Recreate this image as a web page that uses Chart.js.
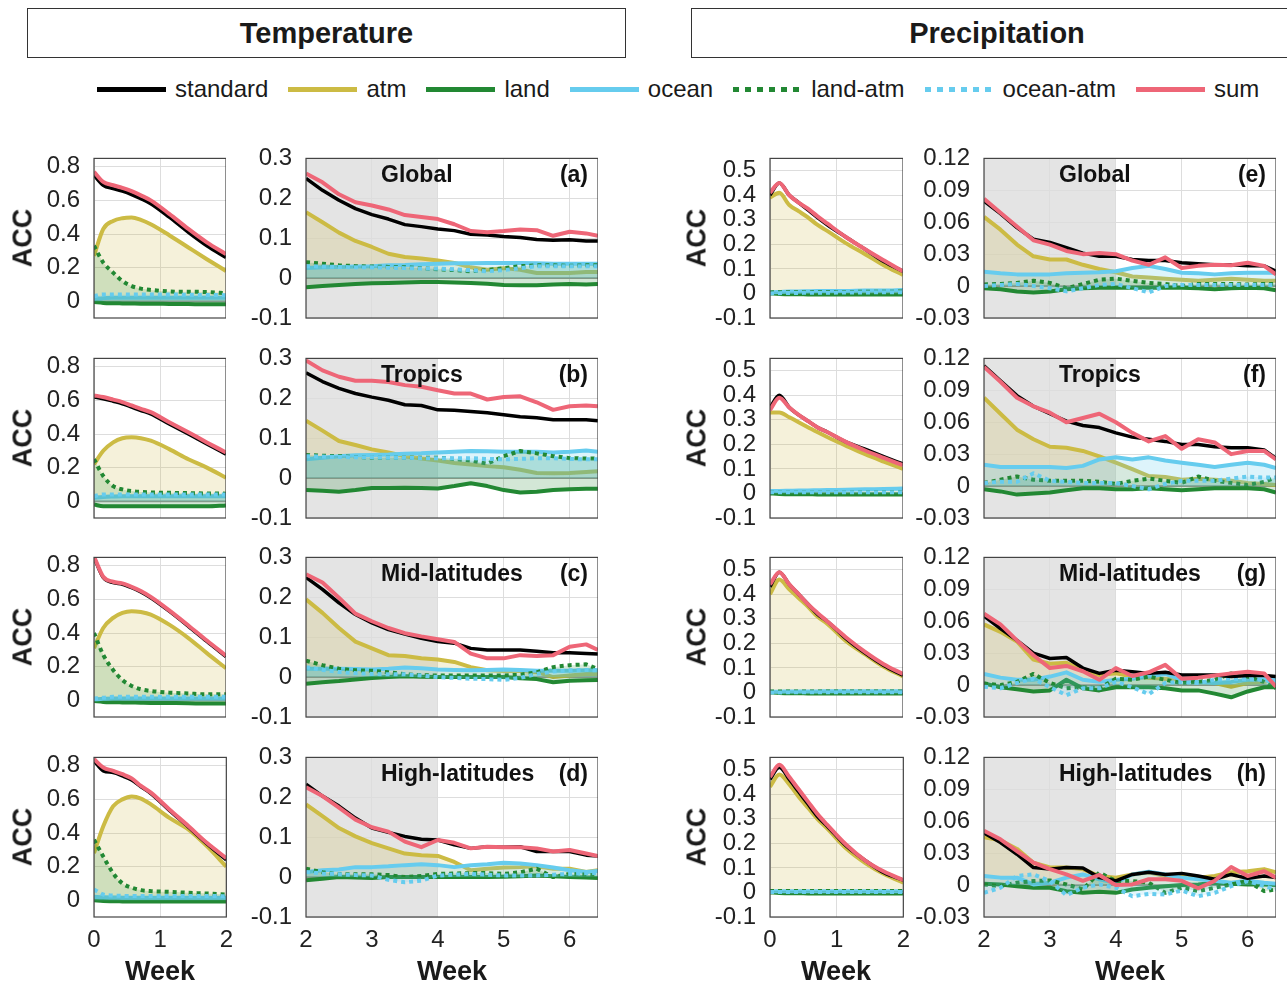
<!DOCTYPE html>
<html>
<head>
<meta charset="utf-8">
<script src="https://cdn.jsdelivr.net/npm/chart.js@4.4.1/dist/chart.umd.min.js"></script>
<style>
  body { margin: 0; width: 1287px; height: 985px; background: #fff; position: relative; overflow: hidden;
         font-family: "Liberation Sans", Arial, Helvetica, sans-serif; color: #1a1a1a; }
  .box { position: absolute; top: 8px; height: 48px; border: 1.5px solid #333; font-weight: bold; font-size: 29px;
         display: flex; align-items: center; justify-content: center; }
  #legend { position: absolute; left: 97px; top: 75px; height: 28px; display: flex; align-items: center; font-size: 24px; }
  .item { display: flex; align-items: center; margin-right: 20px; }
  .swatch { width: 69px; height: 5px; margin-right: 9px; }
  canvas { position: absolute; }
  .acc { position: absolute; font-weight: bold; font-size: 27px; transform: translate(-50%, -50%) rotate(-90deg); }
  .week { position: absolute; font-weight: bold; font-size: 27px; transform: translate(-50%, -50%); }
</style>
</head>
<body>
<div class="box" style="left:27px;width:597px">Temperature</div>
<div class="box" style="left:691px;width:610px">Precipitation</div>
<div id="legend"></div>

<script>
// x positions (weeks): short lead 0-2 weeks, long lead 2-6.4 weeks
const shortWeeks = [0, 0.14, 0.29, 0.43, 0.57, 0.71, 0.86, 1.14, 1.43, 1.71, 2];
const longWeeks = [2, 2.25, 2.5, 2.75, 3, 3.25, 3.5, 3.75, 4, 4.25, 4.5, 4.75, 5, 5.25, 5.5, 5.75, 6, 6.25, 6.43];

const seriesNames = ['standard', 'atm', 'land', 'ocean', 'land-atm', 'ocean-atm', 'sum'];
const regions = ['Global', 'Tropics', 'Mid-latitudes', 'High-latitudes'];
const tempLetters = ['(a)', '(b)', '(c)', '(d)'];
const precLetters = ['(e)', '(f)', '(g)', '(h)'];

// tick values
const tempShortTicks = [0, 0.2, 0.4, 0.6, 0.8];
const tempLongTicks = [-0.1, 0, 0.1, 0.2, 0.3];
const precShortTicks = [-0.1, 0, 0.1, 0.2, 0.3, 0.4, 0.5];
const precLongTicks = [-0.03, 0, 0.03, 0.06, 0.09, 0.12];
const shortWeekTicks = [0, 1, 2];
const longWeekTicks = [2, 3, 4, 5, 6];

// ACC values, rows in seriesNames order: standard, atm, land, ocean, land-atm, ocean-atm, sum
const tempGlobalShort = [
  [0.75, 0.69, 0.67, 0.655, 0.635, 0.61, 0.58, 0.50, 0.41, 0.33, 0.26],
  [0.27, 0.43, 0.478, 0.494, 0.498, 0.484, 0.458, 0.393, 0.32, 0.25, 0.18],
  [-0.005, -0.01, -0.012, -0.013, -0.014, -0.015, -0.015, -0.016, -0.017, -0.018, -0.018],
  [0.015, 0.018, 0.02, 0.02, 0.021, 0.021, 0.021, 0.02, 0.02, 0.02, 0.02],
  [0.33, 0.23, 0.17, 0.12, 0.09, 0.075, 0.067, 0.058, 0.056, 0.055, 0.047],
  [0.03, 0.04, 0.04, 0.04, 0.04, 0.04, 0.04, 0.04, 0.038, 0.037, 0.036],
  [0.77, 0.71, 0.69, 0.675, 0.655, 0.63, 0.60, 0.52, 0.43, 0.35, 0.28]
];
const tempGlobalLong = [
  [0.25, 0.22, 0.195, 0.174, 0.159, 0.148, 0.134, 0.129, 0.123, 0.119, 0.11, 0.108, 0.104, 0.102, 0.097, 0.095, 0.096, 0.093, 0.093],
  [0.165, 0.14, 0.114, 0.093, 0.078, 0.061, 0.053, 0.049, 0.044, 0.038, 0.027, 0.021, 0.025, 0.021, 0.013, 0.013, 0.013, 0.015, 0.015],
  [-0.023, -0.02, -0.017, -0.015, -0.013, -0.012, -0.011, -0.01, -0.01, -0.011, -0.012, -0.014, -0.017, -0.018, -0.018, -0.016, -0.015, -0.016, -0.015],
  [0.025, 0.027, 0.028, 0.029, 0.03, 0.032, 0.033, 0.035, 0.036, 0.037, 0.037, 0.038, 0.038, 0.038, 0.037, 0.036, 0.036, 0.036, 0.036],
  [0.04, 0.036, 0.032, 0.03, 0.029, 0.028, 0.027, 0.025, 0.022, 0.02, 0.017, 0.02, 0.025, 0.03, 0.032, 0.032, 0.031, 0.032, 0.032],
  [0.03, 0.029, 0.028, 0.027, 0.027, 0.026, 0.025, 0.024, 0.024, 0.022, 0.02, 0.017, 0.02, 0.025, 0.03, 0.03, 0.03, 0.03, 0.03],
  [0.262, 0.24, 0.21, 0.19, 0.182, 0.172, 0.158, 0.153, 0.148, 0.135, 0.118, 0.115, 0.118, 0.122, 0.12, 0.106, 0.116, 0.112, 0.106]
];
const tempTropicsShort = [
  [0.62, 0.61, 0.595, 0.58, 0.56, 0.54, 0.52, 0.46, 0.40, 0.34, 0.28],
  [0.22, 0.30, 0.35, 0.375, 0.38, 0.375, 0.36, 0.31, 0.25, 0.20, 0.14],
  [-0.02, -0.03, -0.03, -0.03, -0.03, -0.03, -0.03, -0.03, -0.03, -0.03, -0.025],
  [0.02, 0.025, 0.028, 0.03, 0.03, 0.03, 0.03, 0.03, 0.03, 0.03, 0.03],
  [0.25, 0.15, 0.09, 0.07, 0.06, 0.055, 0.052, 0.05, 0.048, 0.046, 0.045],
  [0.03, 0.04, 0.04, 0.04, 0.04, 0.04, 0.04, 0.04, 0.04, 0.04, 0.04],
  [0.63, 0.62, 0.605, 0.59, 0.57, 0.55, 0.53, 0.47, 0.41, 0.35, 0.29]
];
const tempTropicsLong = [
  [0.264, 0.242, 0.225, 0.212, 0.203, 0.195, 0.184, 0.182, 0.171, 0.17, 0.167, 0.164, 0.159, 0.154, 0.151, 0.146, 0.146, 0.146, 0.144],
  [0.144, 0.119, 0.093, 0.083, 0.072, 0.064, 0.055, 0.049, 0.044, 0.038, 0.034, 0.03, 0.027, 0.021, 0.013, 0.012, 0.013, 0.015, 0.017],
  [-0.03, -0.032, -0.034, -0.03, -0.025, -0.025, -0.024, -0.025, -0.026, -0.02, -0.013, -0.02, -0.03, -0.036, -0.034, -0.03, -0.028, -0.027, -0.027],
  [0.047, 0.051, 0.055, 0.057, 0.058, 0.059, 0.061, 0.062, 0.064, 0.066, 0.068, 0.067, 0.066, 0.066, 0.066, 0.064, 0.066, 0.069, 0.066],
  [0.058, 0.056, 0.055, 0.053, 0.051, 0.051, 0.051, 0.051, 0.051, 0.048, 0.044, 0.036, 0.055, 0.068, 0.062, 0.055, 0.05, 0.049, 0.049],
  [0.055, 0.054, 0.053, 0.052, 0.052, 0.051, 0.051, 0.05, 0.05, 0.05, 0.05, 0.048, 0.047, 0.048, 0.05, 0.05, 0.048, 0.047, 0.047],
  [0.295, 0.27, 0.254, 0.244, 0.244, 0.241, 0.233, 0.229, 0.22, 0.212, 0.212, 0.197, 0.203, 0.205, 0.19, 0.171, 0.18, 0.182, 0.18]
];
const tempMidShort = [
  [0.85, 0.73, 0.70, 0.69, 0.67, 0.645, 0.61, 0.53, 0.44, 0.35, 0.26],
  [0.31, 0.43, 0.49, 0.52, 0.53, 0.525, 0.51, 0.45, 0.37, 0.28, 0.19],
  [-0.005, -0.01, -0.012, -0.013, -0.014, -0.015, -0.016, -0.017, -0.018, -0.02, -0.02],
  [0.005, 0.008, 0.01, 0.01, 0.01, 0.01, 0.01, 0.01, 0.01, 0.01, 0.01],
  [0.40, 0.27, 0.18, 0.12, 0.085, 0.065, 0.055, 0.045, 0.04, 0.035, 0.035],
  [0.01, 0.015, 0.02, 0.02, 0.02, 0.02, 0.02, 0.02, 0.02, 0.02, 0.02],
  [0.855, 0.735, 0.705, 0.695, 0.675, 0.65, 0.615, 0.535, 0.445, 0.355, 0.265]
];
const tempMidLong = [
  [0.25, 0.22, 0.186, 0.157, 0.136, 0.119, 0.108, 0.097, 0.089, 0.085, 0.072, 0.068, 0.068, 0.068, 0.065, 0.061, 0.061, 0.059, 0.058],
  [0.195, 0.161, 0.123, 0.089, 0.072, 0.055, 0.053, 0.047, 0.044, 0.038, 0.025, 0.017, 0.015, 0.015, 0.013, 0.0, 0.004, 0.008, 0.008],
  [-0.017, -0.013, -0.01, -0.006, -0.002, 0.0, 0.002, 0.001, 0.0, 0.0, 0.0, 0.0, 0.0, -0.003, -0.005, -0.013, -0.009, -0.008, -0.007],
  [0.021, 0.021, 0.021, 0.02, 0.019, 0.021, 0.024, 0.022, 0.019, 0.018, 0.017, 0.018, 0.019, 0.018, 0.016, 0.016, 0.016, 0.017, 0.017],
  [0.041, 0.03, 0.021, 0.017, 0.016, 0.012, 0.007, 0.005, 0.004, 0.004, 0.004, 0.004, 0.004, 0.006, 0.012, 0.025, 0.03, 0.032, 0.02],
  [0.025, 0.018, 0.013, 0.01, 0.008, 0.007, 0.007, 0.004, 0.0, -0.002, -0.004, -0.005, -0.007, -0.002, 0.008, 0.014, 0.017, 0.018, 0.017],
  [0.258, 0.237, 0.199, 0.159, 0.14, 0.123, 0.11, 0.102, 0.095, 0.088, 0.059, 0.047, 0.047, 0.055, 0.053, 0.055, 0.076, 0.082, 0.068]
];
const tempHighShort = [
  [0.83, 0.77, 0.76, 0.74, 0.715, 0.675, 0.635, 0.535, 0.435, 0.335, 0.24],
  [0.28, 0.44, 0.56, 0.60, 0.617, 0.605, 0.57, 0.49, 0.42, 0.32, 0.20],
  [0.0, -0.005, -0.006, -0.007, -0.008, -0.008, -0.008, -0.008, -0.008, -0.008, -0.008],
  [0.02, 0.017, 0.016, 0.015, 0.015, 0.015, 0.015, 0.015, 0.015, 0.015, 0.015],
  [0.36, 0.26, 0.16, 0.10, 0.074, 0.06, 0.054, 0.05, 0.044, 0.04, 0.034],
  [0.064, 0.034, 0.028, 0.026, 0.025, 0.025, 0.025, 0.025, 0.025, 0.025, 0.024],
  [0.84, 0.79, 0.77, 0.75, 0.725, 0.68, 0.64, 0.54, 0.44, 0.34, 0.25]
];
const tempHighLong = [
  [0.233, 0.203, 0.178, 0.148, 0.123, 0.112, 0.102, 0.095, 0.093, 0.081, 0.072, 0.076, 0.075, 0.076, 0.064, 0.064, 0.064, 0.055, 0.053],
  [0.182, 0.153, 0.123, 0.102, 0.085, 0.072, 0.059, 0.055, 0.053, 0.038, 0.017, 0.021, 0.024, 0.025, 0.027, 0.021, 0.021, 0.013, 0.017],
  [-0.008, -0.004, 0.0, -0.001, -0.002, 0.0, 0.0, 0.0, 0.0, 0.0, 0.0, 0.0, 0.001, 0.002, 0.004, 0.002, 0.0, -0.001, -0.002],
  [0.013, 0.017, 0.019, 0.025, 0.025, 0.027, 0.03, 0.032, 0.03, 0.025, 0.03, 0.032, 0.036, 0.034, 0.03, 0.024, 0.017, 0.013, 0.015],
  [0.021, 0.012, 0.007, 0.007, 0.007, 0.005, 0.0, 0.003, 0.008, 0.009, 0.01, 0.01, 0.008, 0.012, 0.021, 0.0, 0.008, 0.006, 0.004],
  [0.013, 0.009, 0.007, 0.005, 0.004, -0.007, -0.013, -0.009, 0.004, 0.006, 0.008, 0.006, 0.004, 0.004, 0.004, 0.006, 0.008, 0.01, 0.01],
  [0.225, 0.203, 0.174, 0.144, 0.125, 0.114, 0.089, 0.075, 0.093, 0.086, 0.072, 0.076, 0.075, 0.075, 0.072, 0.064, 0.068, 0.059, 0.053]
];
const precGlobalShort = [
  [0.40, 0.45, 0.40, 0.37, 0.34, 0.31, 0.28, 0.23, 0.18, 0.13, 0.09],
  [0.39, 0.41, 0.36, 0.335, 0.31, 0.28, 0.255, 0.205, 0.16, 0.115, 0.075],
  [0.0, -0.002, -0.003, -0.003, -0.004, -0.004, -0.004, -0.004, -0.004, -0.004, -0.004],
  [0.005, 0.006, 0.008, 0.008, 0.009, 0.01, 0.01, 0.01, 0.012, 0.012, 0.014],
  [0.004, 0.005, 0.005, 0.005, 0.005, 0.006, 0.006, 0.006, 0.007, 0.007, 0.008],
  [0.0, 0.001, 0.002, 0.002, 0.003, 0.003, 0.003, 0.004, 0.004, 0.005, 0.005],
  [0.41, 0.45, 0.40, 0.37, 0.345, 0.315, 0.285, 0.23, 0.18, 0.135, 0.09]
];
const precGlobalLong = [
  [0.08, 0.068, 0.055, 0.044, 0.041, 0.036, 0.031, 0.028, 0.028, 0.025, 0.024, 0.024, 0.022, 0.021, 0.02, 0.02, 0.019, 0.019, 0.014],
  [0.065, 0.053, 0.039, 0.028, 0.025, 0.025, 0.02, 0.016, 0.013, 0.009, 0.008, 0.007, 0.006, 0.005, 0.006, 0.007, 0.006, 0.005, 0.005],
  [-0.002, -0.003, -0.005, -0.006, -0.005, -0.003, -0.002, -0.0015, -0.0015, -0.0015, -0.0015, -0.0015, -0.0015, -0.002, -0.003, -0.002, -0.0015, -0.002, -0.004],
  [0.0135, 0.012, 0.011, 0.011, 0.011, 0.012, 0.0125, 0.013, 0.014, 0.017, 0.019, 0.016, 0.0125, 0.012, 0.011, 0.012, 0.0125, 0.0125, 0.0125],
  [0.0015, 0.002, 0.003, 0.005, 0.003, -0.002, 0.002, 0.006, 0.007, 0.005, 0.003, 0.002, 0.0, 0.002, 0.002, 0.002, 0.0015, 0.002, 0.002],
  [0.0, 0.001, 0.002, 0.0, -0.002, -0.005, -0.002, 0.001, 0.002, -0.002, -0.006, 0.0, 0.001, 0.001, 0.001, 0.001, 0.001, 0.001, 0.001],
  [0.082, 0.069, 0.056, 0.043, 0.039, 0.033, 0.030, 0.031, 0.030, 0.024, 0.020, 0.027, 0.017, 0.019, 0.020, 0.0195, 0.022, 0.019, 0.011]
];
const precTropicsShort = [
  [0.35, 0.40, 0.35, 0.32, 0.295, 0.27, 0.25, 0.21, 0.18, 0.15, 0.12],
  [0.33, 0.33, 0.31, 0.29, 0.27, 0.25, 0.23, 0.195, 0.16, 0.13, 0.10],
  [0.0, -0.002, -0.003, -0.003, -0.003, -0.004, -0.004, -0.004, -0.004, -0.004, -0.004],
  [0.01, 0.01, 0.011, 0.012, 0.012, 0.013, 0.014, 0.015, 0.017, 0.018, 0.02],
  [0.005, 0.005, 0.005, 0.005, 0.005, 0.005, 0.005, 0.005, 0.006, 0.006, 0.006],
  [0.005, 0.005, 0.005, 0.005, 0.005, 0.005, 0.005, 0.005, 0.005, 0.005, 0.005],
  [0.34, 0.39, 0.35, 0.32, 0.295, 0.27, 0.25, 0.21, 0.175, 0.145, 0.115]
];
const precTropicsLong = [
  [0.113, 0.099, 0.085, 0.075, 0.068, 0.061, 0.057, 0.055, 0.050, 0.046, 0.044, 0.042, 0.039, 0.039, 0.037, 0.036, 0.036, 0.034, 0.026],
  [0.083, 0.068, 0.053, 0.044, 0.037, 0.036, 0.033, 0.028, 0.022, 0.016, 0.0095, 0.0085, 0.006, 0.007, 0.006, 0.005, 0.003, 0.002, 0.001],
  [-0.003, -0.005, -0.008, -0.007, -0.006, -0.004, -0.002, -0.002, -0.003, -0.003, -0.002, -0.003, -0.004, -0.003, -0.002, -0.002, -0.002, -0.003, -0.006],
  [0.02, 0.018, 0.018, 0.018, 0.018, 0.017, 0.019, 0.025, 0.027, 0.025, 0.027, 0.024, 0.022, 0.02, 0.018, 0.02, 0.022, 0.02, 0.017],
  [0.003, 0.006, 0.009, 0.006, 0.005, 0.005, 0.005, 0.004, 0.002, 0.005, 0.007, 0.005, 0.003, 0.009, 0.005, 0.003, 0.001, 0.004, 0.008],
  [0.003, 0.004, 0.004, 0.012, 0.005, 0.004, 0.003, 0.003, 0.003, 0.0, -0.003, 0.002, 0.005, 0.005, 0.005, 0.007, 0.009, 0.008, 0.008],
  [0.112, 0.098, 0.083, 0.075, 0.069, 0.060, 0.064, 0.068, 0.060, 0.050, 0.042, 0.047, 0.035, 0.044, 0.041, 0.030, 0.033, 0.033, 0.025]
];
const precMidShort = [
  [0.43, 0.49, 0.44, 0.40, 0.36, 0.32, 0.29, 0.22, 0.16, 0.11, 0.07],
  [0.40, 0.46, 0.42, 0.385, 0.35, 0.31, 0.28, 0.21, 0.155, 0.105, 0.065],
  [0.0, -0.002, -0.003, -0.003, -0.004, -0.004, -0.004, -0.004, -0.004, -0.004, -0.004],
  [0.003, 0.003, 0.004, 0.004, 0.004, 0.004, 0.005, 0.005, 0.005, 0.005, 0.005],
  [0.004, 0.004, 0.004, 0.004, 0.004, 0.004, 0.004, 0.004, 0.004, 0.004, 0.004],
  [0.0, 0.0, 0.001, 0.001, 0.001, 0.001, 0.001, 0.001, 0.001, 0.001, 0.001],
  [0.44, 0.49, 0.44, 0.40, 0.36, 0.325, 0.29, 0.225, 0.165, 0.115, 0.075]
];
const precMidLong = [
  [0.065, 0.053, 0.042, 0.03, 0.025, 0.026, 0.016, 0.011, 0.014, 0.0125, 0.011, 0.012, 0.0095, 0.0095, 0.0095, 0.008, 0.009, 0.009, 0.008],
  [0.057, 0.05, 0.041, 0.024, 0.02, 0.021, 0.014, 0.0095, 0.011, 0.008, 0.007, 0.006, 0.005, 0.003, 0.002, -0.0015, 0.002, 0.003, 0.005],
  [0.0015, -0.002, -0.004, -0.006, -0.005, 0.005, -0.003, -0.005, -0.002, -0.002, -0.002, -0.003, -0.005, -0.005, -0.008, -0.0115, -0.006, -0.002, -0.002],
  [0.0105, 0.007, 0.005, 0.005, 0.008, 0.012, 0.005, 0.003, 0.005, 0.006, 0.008, 0.0105, 0.005, 0.003, 0.002, 0.003, 0.005, 0.0055, 0.0055],
  [0.0015, 0.0, 0.003, 0.0105, 0.002, -0.003, -0.002, -0.003, 0.006, 0.005, 0.008, 0.005, 0.002, 0.003, 0.005, 0.011, 0.008, 0.003, -0.003],
  [-0.0015, -0.003, 0.002, 0.006, -0.002, -0.0095, -0.003, -0.003, 0.003, -0.002, -0.0085, 0.002, 0.003, 0.002, 0.005, 0.006, 0.0055, 0.005, 0.002],
  [0.067, 0.057, 0.042, 0.028, 0.016, 0.018, 0.013, 0.005, 0.016, 0.0085, 0.012, 0.019, 0.006, 0.007, 0.009, 0.011, 0.0125, 0.011, -0.0015]
];
const precHighShort = [
  [0.46, 0.51, 0.46, 0.41, 0.36, 0.31, 0.27, 0.19, 0.13, 0.08, 0.05],
  [0.43, 0.48, 0.44, 0.39, 0.345, 0.30, 0.26, 0.18, 0.12, 0.075, 0.04],
  [0.0, -0.002, -0.003, -0.003, -0.004, -0.004, -0.004, -0.004, -0.004, -0.004, -0.004],
  [0.005, 0.005, 0.005, 0.005, 0.005, 0.005, 0.005, 0.005, 0.005, 0.005, 0.005],
  [0.006, 0.006, 0.006, 0.006, 0.006, 0.006, 0.006, 0.006, 0.006, 0.006, 0.006],
  [0.002, 0.002, 0.002, 0.002, 0.002, 0.002, 0.002, 0.002, 0.002, 0.002, 0.002],
  [0.47, 0.52, 0.47, 0.42, 0.37, 0.32, 0.275, 0.195, 0.13, 0.085, 0.05]
];
const precHighLong = [
  [0.049, 0.04, 0.029, 0.0165, 0.015, 0.0165, 0.016, 0.007, 0.004, 0.01, 0.012, 0.01, 0.011, 0.0085, 0.0055, 0.01, 0.0063, 0.0085, 0.007],
  [0.045, 0.042, 0.034, 0.021, 0.0165, 0.0165, 0.015, 0.0085, 0.007, 0.01, 0.012, 0.0085, 0.0085, 0.007, 0.0085, 0.012, 0.013, 0.015, 0.012],
  [0.0013, 0.0006, -0.001, -0.0025, -0.0025, -0.0057, -0.0073, -0.0063, -0.0073, -0.0041, -0.0025, -0.001, 0.0, 0.0006, 0.0022, 0.0013, 0.0006, 0.0006, 0.0],
  [0.0085, 0.007, 0.007, 0.0006, 0.0022, 0.007, 0.01, 0.0055, 0.0022, 0.01, 0.0125, 0.01, 0.007, 0.0055, 0.004, 0.0022, 0.004, 0.0022, 0.0013],
  [0.0006, -0.001, 0.0022, 0.0038, 0.0044, 0.0006, -0.0041, 0.0117, 0.0038, 0.0038, 0.0022, -0.0073, -0.0025, -0.0057, -0.0025, 0.0006, 0.0038, -0.0057, -0.0041],
  [-0.0073, -0.0025, 0.0085, 0.0101, 0.0038, -0.0095, -0.0025, 0.0006, -0.0025, -0.0105, -0.0083, -0.0089, -0.0051, -0.0105, -0.0073, -0.001, 0.0038, -0.001, -0.0041],
  [0.051, 0.043, 0.032, 0.021, 0.015, 0.01, 0.004, 0.0095, 0.0, 0.0006, 0.0055, 0.0055, 0.004, -0.003, 0.004, 0.017, 0.0085, 0.013, 0.007]
];

// line styles per series
const seriesStyle = {
  'standard':  { color: '#000000', width: 3.5, dash: [], fill: false, order: 1 },
  'atm':       { color: '#CCBB44', width: 4, dash: [], fill: 'rgba(204,187,68,0.2)', order: 6 },
  'land':      { color: '#228833', width: 4, dash: [], fill: 'rgba(34,136,51,0.2)', order: 5 },
  'ocean':     { color: '#66CCEE', width: 4, dash: [], fill: 'rgba(102,204,238,0.22)', order: 4 },
  'land-atm':  { color: '#228833', width: 4, dash: [4, 4], fill: 'rgba(34,136,51,0.18)', order: 3 },
  'ocean-atm': { color: '#66CCEE', width: 4, dash: [4, 4], fill: 'rgba(102,204,238,0.18)', order: 2 },
  'sum':       { color: '#EE6677', width: 4, dash: [], fill: false, order: 0 }
};

const FONT = '"Liberation Sans", Arial, Helvetica, sans-serif';

// legend
const legend = document.getElementById('legend');
seriesNames.forEach(name => {
  const s = seriesStyle[name];
  const bg = s.dash.length
    ? `repeating-linear-gradient(to right, ${s.color} 0 6px, transparent 6px 12px)`
    : s.color;
  legend.insertAdjacentHTML('beforeend',
    `<div class="item"><div class="swatch" style="background:${bg}"></div><span>${name}</span></div>`);
});

// shading, zero line, box and panel captions
const panelDecor = {
  id: 'panelDecor',
  beforeDraw(chart, args, o) {
    if (!o.shade) return;
    const { ctx, chartArea: a, scales: { x } } = chart;
    const x0 = x.getPixelForValue(o.shade[0]);
    const x1 = x.getPixelForValue(o.shade[1]);
    ctx.save();
    ctx.fillStyle = '#e4e4e4';
    ctx.fillRect(x0, a.top, x1 - x0, a.bottom - a.top);
    ctx.restore();
  },
  beforeDatasetsDraw(chart) {
    const { ctx, chartArea: a, scales: { y } } = chart;
    const y0 = y.getPixelForValue(0);
    ctx.save();
    ctx.strokeStyle = 'rgba(140,140,140,0.8)';
    ctx.lineWidth = 2;
    ctx.beginPath();
    ctx.moveTo(a.left, y0);
    ctx.lineTo(a.right, y0);
    ctx.stroke();
    ctx.restore();
  },
  afterDraw(chart, args, o) {
    const { ctx, chartArea: a } = chart;
    ctx.save();
    ctx.strokeStyle = '#444';
    ctx.lineWidth = 1.2;
    ctx.strokeRect(a.left, a.top, a.right - a.left, a.bottom - a.top);
    if (o.region) {
      ctx.fillStyle = '#111';
      ctx.font = `bold 23px ${FONT}`;
      ctx.textBaseline = 'middle';
      ctx.textAlign = 'left';
      ctx.fillText(o.region, a.left + 75, a.top + 17);
      ctx.textAlign = 'right';
      ctx.fillText(o.letter, a.right - 10, a.top + 17);
    }
    ctx.restore();
  }
};
Chart.register(panelDecor);

const plotTops = [158, 358, 557, 757];
const plotH = 160, yW = 70, xH = 40;

function fmt(v) {
  return String(Math.round(v * 1000) / 1000);
}

function panelConfig(xs, values, yMin, yMax, yTicks, xMin, xMax, xTicks, showX, deco, smooth) {
  const datasets = seriesNames.map((name, i) => {
    const s = seriesStyle[name];
    return {
      label: name,
      data: xs.map((x, j) => ({ x: x, y: values[i][j] })),
      borderColor: s.color,
      borderWidth: s.width,
      borderDash: s.dash,
      backgroundColor: s.fill || 'transparent',
      fill: s.fill ? 'origin' : false,
      order: s.order,
      pointRadius: 0,
      cubicInterpolationMode: smooth ? 'monotone' : 'default',
      tension: 0,
      borderJoinStyle: 'round'
    };
  });
  const tickFont = { family: FONT, size: 24 };
  return {
    type: 'line',
    data: { datasets },
    options: {
      responsive: false,
      animation: false,
      devicePixelRatio: 1,
      layout: { padding: 0 },
      plugins: { legend: { display: false }, tooltip: { enabled: false }, panelDecor: deco },
      scales: {
        x: {
          type: 'linear', min: xMin, max: xMax,
          afterBuildTicks: ax => { ax.ticks = xTicks.map(v => ({ value: v })); },
          afterFit: sc => { sc.height = xH; },
          grid: { color: '#dddddd', drawTicks: false },
          border: { display: false },
          ticks: { display: showX, autoSkip: false, maxRotation: 0, padding: 9, color: '#222', font: tickFont, callback: v => fmt(v) }
        },
        y: {
          min: yMin, max: yMax,
          afterBuildTicks: ax => { ax.ticks = yTicks.map(v => ({ value: v })); },
          afterFit: sc => { sc.width = yW; },
          grid: { color: '#dddddd', drawTicks: false },
          border: { display: false },
          ticks: { autoSkip: false, padding: 14, color: '#222', font: tickFont, callback: v => fmt(v) }
        }
      }
    }
  };
}

// place a panel so that its plot area lands on the given rectangle
function makePanel(left, top, plotW, ...rest) {
  const cv = document.createElement('canvas');
  document.body.appendChild(cv);
  cv.width = plotW + 120;
  cv.height = plotH + 80;
  const probe = new Chart(cv, panelConfig(...rest));
  const a = probe.chartArea;
  const l = a.left, t = a.top, r = cv.width - a.right, b = cv.height - a.bottom;
  probe.destroy();
  cv.width = Math.round(l + plotW + r);
  cv.height = Math.round(t + plotH + b);
  cv.style.left = Math.round(left - l) + 'px';
  cv.style.top = Math.round(top - t) + 'px';
  new Chart(cv, panelConfig(...rest));
}

const tempShortData = [tempGlobalShort, tempTropicsShort, tempMidShort, tempHighShort];
const tempLongData = [tempGlobalLong, tempTropicsLong, tempMidLong, tempHighLong];
const precShortData = [precGlobalShort, precTropicsShort, precMidShort, precHighShort];
const precLongData = [precGlobalLong, precTropicsLong, precMidLong, precHighLong];

plotTops.forEach((top, r) => {
  const last = r === 3;
  makePanel(94, top, 132, shortWeeks, tempShortData[r], -0.1, 0.85, tempShortTicks, 0, 2, shortWeekTicks, last, {}, true);
  makePanel(306, top, 292, longWeeks, tempLongData[r], -0.1, 0.3, tempLongTicks, 2, 6.43, longWeekTicks, last,
    { shade: [2, 4], region: regions[r], letter: tempLetters[r] }, false);
  makePanel(770, top, 133, shortWeeks, precShortData[r], -0.1, 0.55, precShortTicks, 0, 2, shortWeekTicks, last, {}, true);
  makePanel(984, top, 292, longWeeks, precLongData[r], -0.03, 0.12, precLongTicks, 2, 6.43, longWeekTicks, last,
    { shade: [2, 4], region: regions[r], letter: precLetters[r] }, false);

  document.body.insertAdjacentHTML('beforeend',
    `<div class="acc" style="left:23px;top:${top + 80}px">ACC</div>` +
    `<div class="acc" style="left:697px;top:${top + 80}px">ACC</div>`);
});

[160, 452, 836, 1130].forEach(cx => {
  document.body.insertAdjacentHTML('beforeend', `<div class="week" style="left:${cx}px;top:971px">Week</div>`);
});
</script>
</body>
</html>
